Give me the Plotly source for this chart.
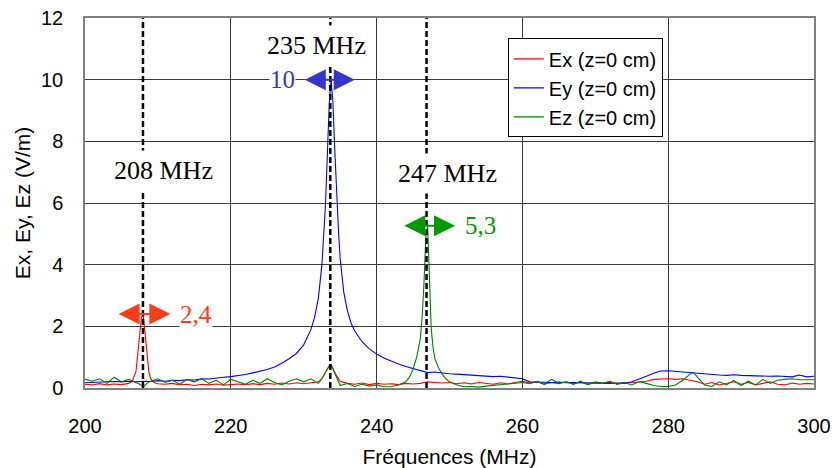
import plotly.graph_objects as go

# --- data ---
freq_x = [200, 201, 202, 203, 204, 205, 206, 206.5, 207, 207.25, 207.5, 207.75, 208, 208.25, 208.5, 208.75, 209, 209.5,
          210, 211, 212, 213, 214, 215, 216, 217, 218, 219, 220, 221, 222, 223, 224, 225, 226, 227, 228, 229, 230, 231,
          232, 232.5, 233, 233.5, 233.75, 234, 234.5, 235, 236, 237, 238, 239, 240, 241, 242, 243, 244, 245, 246, 247,
          248, 249, 250, 251, 252, 253, 254, 255, 256, 257, 258, 259, 260, 261, 262, 263, 264, 265, 266, 267, 268, 269,
          270, 271, 272, 273, 274, 275, 276, 277, 278, 279, 280, 281, 282, 283, 284, 285, 286, 287, 288, 289, 290, 291,
          292, 293, 294, 295, 296, 297, 298, 299, 300]
ex = [0.12, 0.10, 0.14, 0.10, 0.13, 0.11, 0.15, 0.22, 0.55, 1.1, 1.8, 2.3, 2.35, 1.75, 1.0, 0.55, 0.3, 0.18,
      0.14, 0.12, 0.15, 0.10, 0.12, 0.08, 0.12, 0.10, 0.13, 0.09, 0.11, 0.13, 0.10, 0.14, 0.11, 0.15, 0.12, 0.16, 0.13, 0.17, 0.14, 0.18,
      0.2, 0.3, 0.5, 0.72, 0.75, 0.65, 0.4, 0.22, 0.15, 0.12, 0.16, 0.11, 0.15, 0.12, 0.14, 0.11, 0.15, 0.13, 0.15, 0.2,
      0.18, 0.16, 0.18, 0.14, 0.17, 0.13, 0.18, 0.15, 0.12, 0.17, 0.13, 0.18, 0.22, 0.16, 0.2, 0.12, 0.18, 0.14, 0.2, 0.15, 0.18, 0.13,
      0.17, 0.15, 0.19, 0.14, 0.18, 0.17, 0.2, 0.22, 0.28, 0.3, 0.3, 0.28, 0.3, 0.25, 0.2, 0.12, 0.18, 0.1, 0.16, 0.2, 0.12, 0.18,
      0.1, 0.15, 0.2, 0.12, 0.1, 0.16, 0.12, 0.15, 0.13]

freq_y = [200, 201, 202, 203, 204, 205, 206, 207, 208, 209, 210, 211, 212, 213, 214, 215, 216, 217, 218, 219, 220, 221,
          222, 223, 224, 225, 226, 227, 228, 229, 230, 230.5, 231, 231.5, 232, 232.5, 233, 233.25, 233.5, 233.75, 234,
          234.25, 234.5, 234.75, 235, 235.5, 236, 236.5, 237, 238, 239, 240, 241, 242, 243, 244, 245, 246, 247, 248, 249,
          250, 251, 252, 253, 254, 255, 256, 257, 258, 259, 260, 261, 262, 263, 264, 265, 266, 267, 268, 269, 270, 271,
          272, 273, 274, 275, 276, 277, 278, 279, 280, 281, 282, 283, 284, 285, 286, 287, 288, 289, 290, 291, 292, 293,
          294, 295, 296, 297, 298, 299, 300]
ey = [0.17, 0.18, 0.2, 0.19, 0.21, 0.2, 0.22, 0.2, 0.22, 0.21, 0.24, 0.22, 0.25, 0.24, 0.27, 0.26, 0.3, 0.29, 0.33, 0.35, 0.37, 0.4,
      0.44, 0.49, 0.54, 0.6, 0.68, 0.8, 0.95, 1.12, 1.4, 1.65, 1.9, 2.3, 2.9, 4.0, 6.0, 7.6, 9.2, 10.0, 9.3,
      7.8, 6.4, 5.2, 4.2, 3.1, 2.5, 2.1, 1.85, 1.5, 1.27, 1.1, 0.97, 0.87, 0.78, 0.7, 0.63, 0.57, 0.5, 0.52, 0.48,
      0.46, 0.45, 0.43, 0.42, 0.4, 0.39, 0.37, 0.38, 0.35, 0.33, 0.3, 0.2, 0.19, 0.2, 0.18, 0.19, 0.17, 0.18, 0.17, 0.16, 0.17, 0.16,
      0.15, 0.16, 0.15, 0.2, 0.28, 0.38, 0.48, 0.55, 0.56, 0.54, 0.52, 0.48, 0.46, 0.44, 0.43, 0.42, 0.41, 0.43, 0.41, 0.4, 0.39, 0.4,
      0.38, 0.39, 0.37, 0.36, 0.42, 0.36, 0.38]

freq_z = [200, 201, 202, 203, 204, 205, 206, 207, 207.5, 208, 208.5, 209, 210, 211, 212, 213, 214, 215, 216, 217, 218, 219,
          220, 221, 222, 223, 224, 225, 226, 227, 228, 229, 230, 231, 232, 232.5, 233, 233.5, 233.75, 234, 234.5, 235,
          236, 237, 238, 239, 240, 241, 242, 243, 244, 244.5, 245, 245.5, 246, 246.25, 246.5, 246.75, 247, 247.25, 247.5,
          247.75, 248, 248.5, 249, 249.5, 250, 251, 252, 253, 254, 255, 256, 257, 258, 259, 260, 261, 262, 263, 264, 265,
          266, 267, 268, 269, 270, 271, 272, 273, 274, 275, 276, 277, 278, 279, 280, 281, 282, 283, 283.5, 284, 285, 286,
          287, 288, 289, 290, 291, 292, 293, 294, 295, 296, 297, 298, 299, 300]
ez = [0.28, 0.22, 0.3, 0.15, 0.35, 0.2, 0.28, 0.18, 0.12, 0.04, 0.15, 0.22, 0.3, 0.18, 0.25, 0.12, 0.28, 0.2, 0.3, 0.15, 0.25, 0.1,
      0.28, 0.2, 0.12, 0.25, 0.15, 0.3, 0.18, 0.1, 0.22, 0.3, 0.2, 0.3, 0.15, 0.3, 0.5, 0.72, 0.75, 0.62, 0.35, 0.08,
      0.15, 0.05, 0.12, 0.06, 0.1, 0.04, 0.05, 0.1, 0.2, 0.35, 0.6, 1.0, 1.6, 2.3, 3.4, 4.9, 5.25, 3.4, 1.9,
      1.3, 0.95, 0.65, 0.45, 0.3, 0.2, 0.1, 0.04, 0.05, 0.03, 0.06, 0.08, 0.1, 0.12, 0.15, 0.18, 0.14, 0.22, 0.12, 0.28, 0.15,
      0.2, 0.12, 0.22, 0.1, 0.2, 0.15, 0.22, 0.12, 0.18, 0.1, 0.2, 0.15, 0.08, 0.05, 0.05, 0.1, 0.25, 0.45, 0.5, 0.35, 0.1, 0.05,
      0.2, 0.1, 0.25, 0.08, 0.22, 0.1, 0.28, 0.15, 0.25, 0.28, 0.3, 0.27, 0.28, 0.27]

series_names = ["Ex (z=0 cm)", "Ey (z=0 cm)", "Ez (z=0 cm)"]
series_colors = ["#ff0000", "#0000ff", "#008000"]

# resonance markers
res_freqs = [207.95, 233.65, 246.85]
res_labels = ["208 MHz", "235 MHz", "247 MHz"]
res_label_x = [210.8, 231.8, 249.7]
res_label_y = [7.05, 11.1, 6.95]

# peak amplitude arrows
peak_vals = [2.4, 10, 5.26]
peak_texts = ["2,4", "10", "5,3"]
arrow_x0 = [204.4, 229.95, 243.6]
arrow_x1 = [211.7, 237.0, 250.75]
peak_text_x = [215.2, 227.1, 254.3]
arrow_colors = ["#ff3c14", "#3535cc", "#009900"]

fig = go.Figure()
for fx, fy, nm, col in zip([freq_x, freq_y, freq_z], [ex, ey, ez], series_names, series_colors):
    fig.add_trace(go.Scatter(x=fx, y=fy, mode="lines", name=nm,
                             line=dict(color=col, width=1.1)))

for f in res_freqs:
    fig.add_shape(type="line", x0=f, x1=f, y0=0, y1=12, xref="x", yref="y",
                  line=dict(color="black", width=2.5, dash="6px,3px"), layer="above")

serif = "Liberation Serif, Times New Roman, serif"
for tx, ty, t in zip(res_label_x, res_label_y, res_labels):
    fig.add_annotation(x=tx, y=ty, text=t, showarrow=False, bgcolor="white",
                       borderpad=5, font=dict(family=serif, size=26, color="black"))

for x0, x1, v, col in zip(arrow_x0, arrow_x1, peak_vals, arrow_colors):
    fig.add_annotation(x=x1, y=v, ax=x0, ay=v, axref="x", ayref="y", xref="x", yref="y",
                       text="", showarrow=True, arrowhead=2, startarrowhead=2,
                       arrowside="end+start", arrowsize=2.1, startarrowsize=2.1,
                       arrowwidth=2, arrowcolor=col)

for tx, v, t, col in zip(peak_text_x, peak_vals, peak_texts, arrow_colors):
    fig.add_annotation(x=tx, y=v, text=t, showarrow=False, bgcolor="white", borderpad=0,
                       font=dict(family=serif, size=25, color=col))

sans = "Arial, Liberation Sans, sans-serif"
fig.update_layout(
    width=835, height=468,
    margin=dict(l=85, r=21, t=18, b=80, autoexpand=False),
    paper_bgcolor="white", plot_bgcolor="white",
    font=dict(family=sans, size=20, color="black"),
    showlegend=True,
    legend=dict(x=0.58, y=0.945, xanchor="left", yanchor="top",
                bgcolor="white", bordercolor="black", borderwidth=1,
                font=dict(family=sans, size=20, color="black"),
                tracegroupgap=0, itemwidth=30),
    xaxis=dict(range=[200, 300], tick0=200, dtick=20, showgrid=True, automargin=False,
               gridcolor="#3a3a3a", gridwidth=1, zeroline=False,
               showline=True, linecolor="#808080", linewidth=1.5, mirror=True,
               ticks="", ticklabelstandoff=19,
               title=dict(text="Fréquences (MHz)", font=dict(size=21), standoff=14)),
    yaxis=dict(range=[0, 12], tick0=0, dtick=2, showgrid=True, automargin=False,
               gridcolor="#3a3a3a", gridwidth=1, zeroline=False,
               showline=True, linecolor="#808080", linewidth=1.5, mirror=True,
               ticks="", ticklabelstandoff=16,
               title=dict(text="Ex, Ey, Ez (V/m)", font=dict(size=21), standoff=5)),
)

fig.write_html("out.html", config={"displayModeBar": False},
               post_script="document.body.style.margin='0';document.body.style.overflow='hidden';")
